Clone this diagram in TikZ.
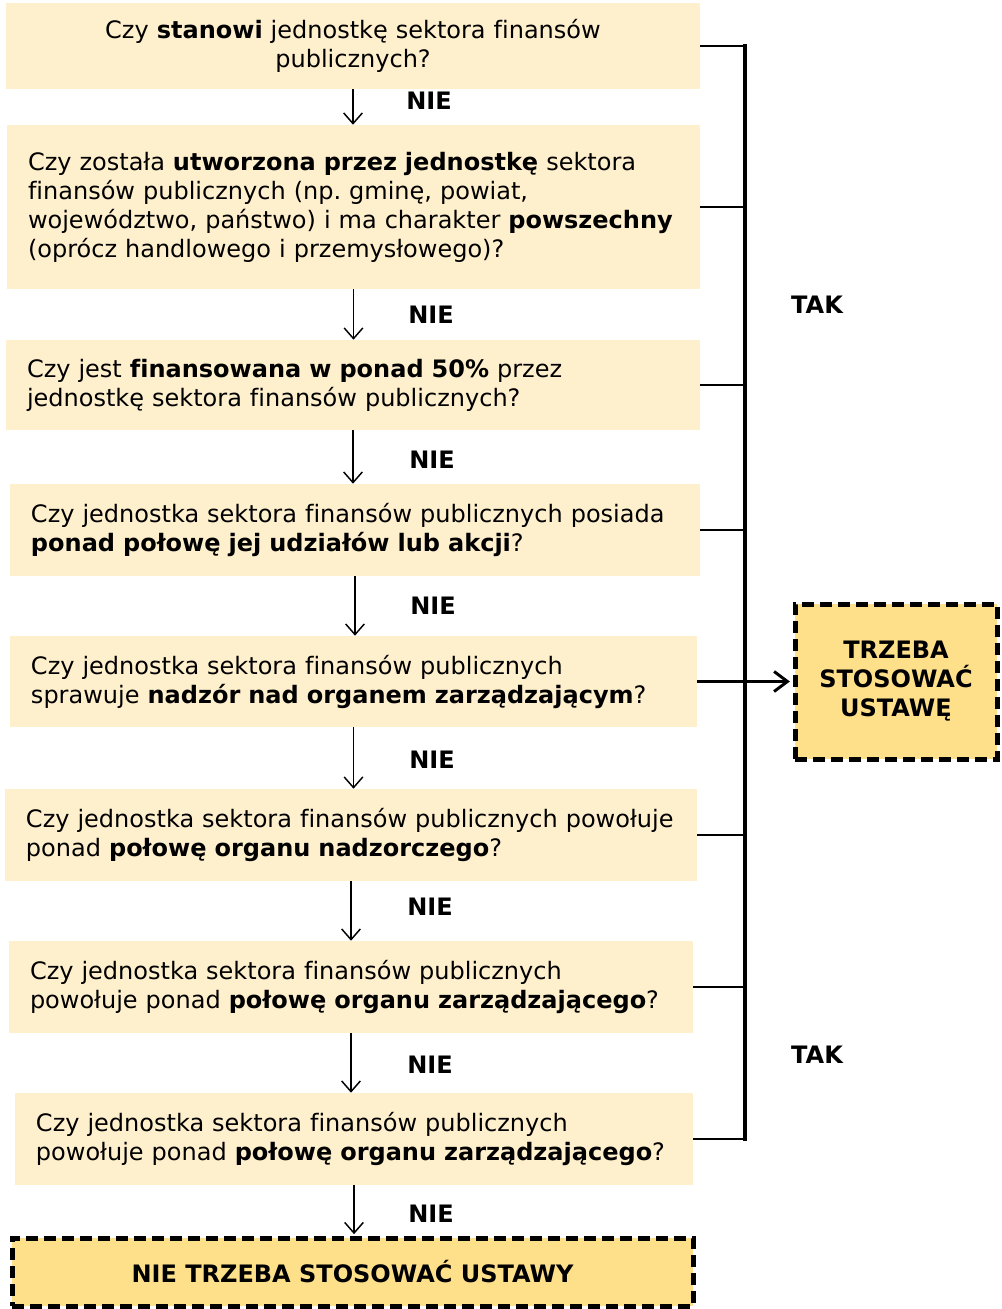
\documentclass[tikz,border=0pt]{standalone}
\usepackage{fontspec}
\setmainfont[Ligatures=CommonOff]{DejaVu Sans}
\usetikzlibrary{arrows.meta}
\definecolor{qfill}{HTML}{FFF0CD}
\definecolor{endfill}{HTML}{FFE08A}
\frenchspacing

\begin{document}
\begin{tikzpicture}[x=0.75pt, y=-0.75pt, >={Straight Barb[length=8pt,width=14pt]},
    font=\fontsize{18}{21.75}\selectfont]
  \tikzstyle{qbox}=[rectangle, fill=qfill, align=left, inner xsep=15.75pt, inner ysep=0pt]
  \tikzstyle{endbox}=[rectangle, draw, fill=endfill, line width=3.75pt, dash pattern=on 9pt off 4.5pt, align=center, inner sep=0pt, font=\fontsize{18}{21.75}\selectfont\bfseries]
  \tikzstyle{lbl}=[font=\fontsize{18}{21.75}\selectfont\bfseries]
  \tikzstyle{bus}=[line width=2pt]

  \useasboundingbox (0,0) rectangle (1001,1309);

  % questions
  \node[qbox, align=center, text width=489pt, minimum height=64.5pt] (q1) at (353,46)
    {Czy \textbf{stanowi} jednostkę sektora finansów\\ publicznych?};
  \node[qbox, text width=488.25pt, minimum height=123pt] (q2) at (353.5,207)
    {Czy została \textbf{utworzona przez jednostkę} sektora\\ finansów publicznych (np. gminę, powiat,\\ województwo, państwo) i ma charakter \textbf{powszechny}\\ (oprócz handlowego i przemysłowego)?\\[6pt]};
  \node[qbox, text width=489pt, minimum height=67.5pt] (q3) at (353,385)
    {Czy jest \textbf{finansowana w ponad 50\%} przez\\ jednostkę sektora finansów publicznych?};
  \node[qbox, text width=486pt, minimum height=69pt] (q4) at (355,530)
    {Czy jednostka sektora finansów publicznych posiada\\ \textbf{ponad połowę jej udziałów lub akcji}?};
  \node[qbox, text width=483.75pt, minimum height=68.25pt] (q5) at (353.5,681.5)
    {Czy jednostka sektora finansów publicznych\\ sprawuje \textbf{nadzór nad organem zarządzającym}?};
  \node[qbox, text width=487.5pt, minimum height=69pt] (q6) at (351,835)
    {Czy jednostka sektora finansów publicznych powołuje\\ ponad \textbf{połowę organu nadzorczego}?};
  \node[qbox, text width=481.5pt, minimum height=69pt] (q7) at (351,987)
    {Czy jednostka sektora finansów publicznych\\ powołuje ponad \textbf{połowę organu zarządzającego}?};
  \node[qbox, text width=477pt, minimum height=69pt] (q8) at (354,1139)
    {Czy jednostka sektora finansów publicznych\\ powołuje ponad \textbf{połowę organu zarządzającego}?};

  % results
  \node[endbox, minimum width=151.5pt, minimum height=116.25pt] (res) at (896,681.5)
    {TRZEBA\\ STOSOWAĆ\\ USTAWĘ};
  \node[endbox, minimum width=510.75pt, minimum height=51pt] (nores) at (352.5,1272)
    {NIE TRZEBA STOSOWAĆ USTAWY};

  % labels
  \node[lbl] (n1) at (429,101) {NIE};
  \node[lbl] (n2) at (431,315) {NIE};
  \node[lbl] (n3) at (432,460) {NIE};
  \node[lbl] (n4) at (433,606) {NIE};
  \node[lbl] (n5) at (432,760) {NIE};
  \node[lbl] (n6) at (430,907) {NIE};
  \node[lbl] (n7) at (430,1065) {NIE};
  \node[lbl] (n8) at (431,1214) {NIE};
  \node[lbl] (t1) at (817,305) {TAK};
  \node[lbl] (t2) at (817,1055) {TAK};

  % NIE arrows
  \foreach \a/\b in {q1/q2, q2/q3, q3/q4, q4/q5, q5/q6, q6/q7, q7/q8}
    \draw[->, line width=1.1pt] (\a.south) -- (\a.south |- \b.north);
  \draw[->, line width=1.1pt, shorten >=1pt] (q8.south) -- (q8.south |- nores.north);

  % TAK bus
  \coordinate (bus) at (745,46);
  \foreach \q in {q1,q2,q3,q4,q5,q6,q7,q8}
    \draw[bus] (\q.east) -- (\q.east -| bus);
  \draw[line width=3pt, line cap=rect] (q1.east -| bus) -- (q8.east -| bus);
  \draw[-{Straight Barb[length=10pt,width=15pt]}, line width=2.2pt, shorten >=2pt]
    (q5.east -| bus) -- (res.west);
\end{tikzpicture}
\end{document}
